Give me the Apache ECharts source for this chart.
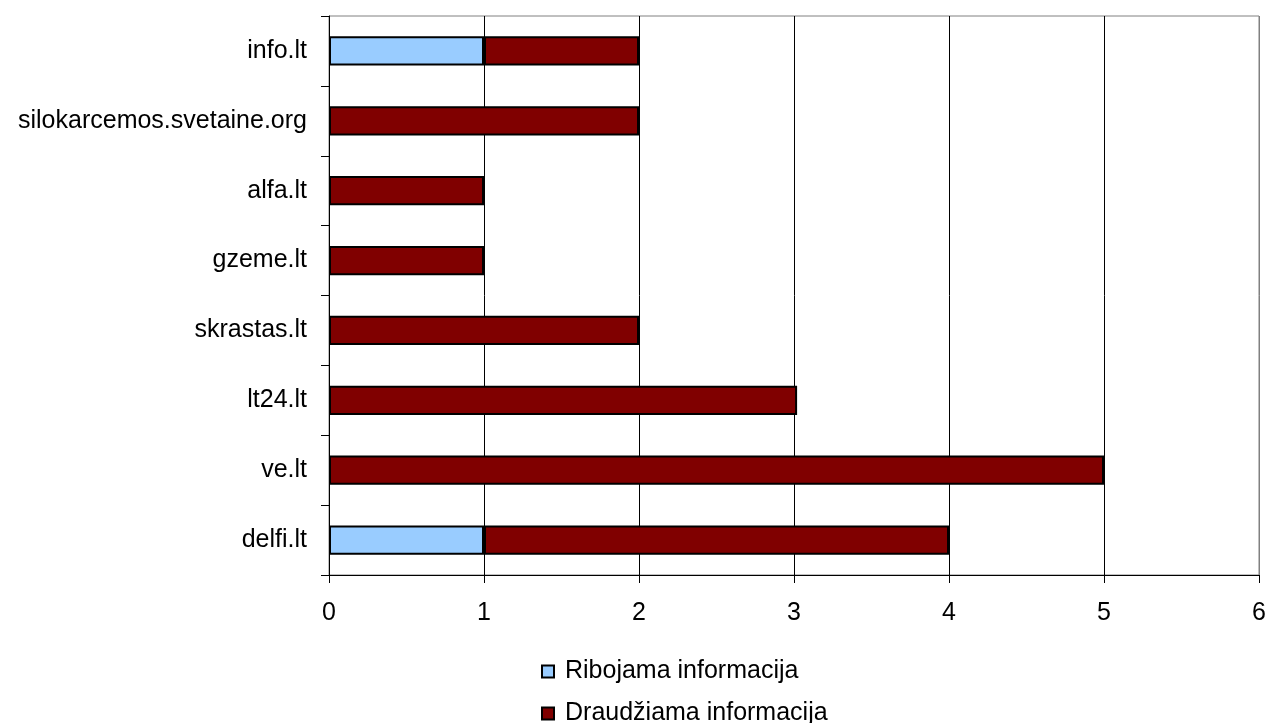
<!DOCTYPE html>
<html>
<head>
<meta charset="utf-8">
<script src="https://cdn.jsdelivr.net/npm/echarts@6/dist/echarts.min.js"></script>
<style>html,body{margin:0;padding:0;background:#fff}#c{width:1271px;height:723px}</style>
</head>
<body>
<div id="c"></div>
<script>
const categories = ['delfi.lt','ve.lt','lt24.lt','skrastas.lt','gzeme.lt','alfa.lt','silokarcemos.svetaine.org','info.lt'];
const ribojama = [1, null, null, null, null, null, null, 1];
const draudziama = [3, 5, 3.02, 2, 1, 1, 2, 1];
const seriesNames = ['Ribojama informacija', 'Draudžiama informacija'];
const xTicks = [0,1,2,3,4,5,6];

const FONT = '"Liberation Sans", Arial, sans-serif';
const chart = echarts.init(document.getElementById('c'), null, {renderer:'canvas'});
chart.setOption({
  animation:false,
  backgroundColor:'#fff',
  textStyle:{fontFamily:FONT},
  grid:{left:329, right:12, top:16, bottom:148, show:true, borderColor:'#808080', borderWidth:1, backgroundColor:'transparent'},
  legend:{
    orient:'vertical', left:536, top:654, height:200,
    itemWidth:12, itemHeight:12, itemGap:17,
    icon:'rect',
    textStyle:{fontFamily:FONT, fontSize:25, color:'#000', padding:[0,0,0,6]},
    data:seriesNames
  },
  xAxis:{
    type:'value', min:0, max:6, interval:1,
    axisLine:{show:true, lineStyle:{color:'#000', width:1}},
    axisTick:{show:true, length:8, lineStyle:{color:'#000'}},
    axisLabel:{fontFamily:FONT, fontSize:25, color:'#000', margin:26,
      formatter:v=>String(xTicks[v]!==undefined?xTicks[v]:v)},
    splitLine:{show:true, lineStyle:{color:['#000','#000','#000','#000','#000','#000','#808080'], width:1}}
  },
  yAxis:{
    type:'category', data:categories,
    axisLine:{show:true, lineStyle:{color:'#000', width:1}},
    axisTick:{show:true, length:8, inside:false, lineStyle:{color:'#000'}},
    axisLabel:{fontFamily:FONT, fontSize:25, color:'#000', margin:22},
    splitLine:{show:false}
  },
  series:[
    {name:seriesNames[0], type:'bar', stack:'s', data:ribojama, barCategoryGap:'58%',
     itemStyle:{color:'#99CCFF', borderColor:'#000', borderWidth:2}},
    {name:seriesNames[1], type:'bar', stack:'s', data:draudziama, barCategoryGap:'58%',
     itemStyle:{color:'#800000', borderColor:'#000', borderWidth:2}}
  ]
});
</script>
</body>
</html>
